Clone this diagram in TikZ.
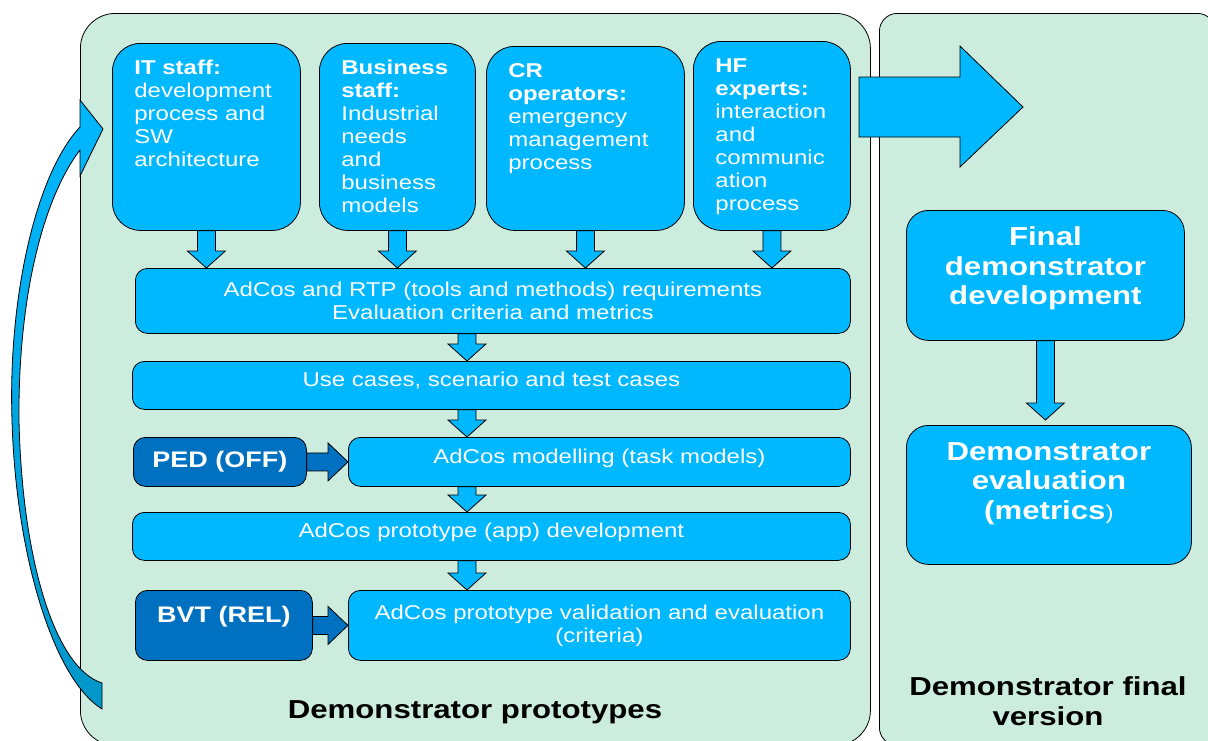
\documentclass[tikz,border=0pt]{standalone}
\usepackage{fontspec}
\setmainfont{Liberation Sans}[FakeStretch=1.2]
\usetikzlibrary{calc}

\definecolor{panelgreen}{RGB}{204,236,221}
\definecolor{boxblue}{RGB}{0,184,255}
\definecolor{darkblue}{RGB}{0,112,192}
\definecolor{arcblue}{RGB}{0,150,200}

% block arrows between two anchors (down / right)
\newcommand{\downblk}[3][boxblue]{%
  \draw[blkarrow, fill=#1] let \p1=#2, \p2=#3 in
    (\x1-9pt,\y1) -- (\x1-9pt,\y2+17pt) -- (\x1-19pt,\y2+17pt) -- (\x1,\y2)
    -- (\x1+19pt,\y2+17pt) -- (\x1+9pt,\y2+17pt) -- (\x1+9pt,\y1) -- cycle;}
\newcommand{\rightblk}[3][darkblue]{%
  \draw[blkarrow, fill=#1] let \p1=#2, \p2=#3 in
    (\x1,\y1+9pt) -- (\x2-20pt,\y1+9pt) -- (\x2-20pt,\y1+19pt) -- (\x2,\y1)
    -- (\x2-20pt,\y1-19pt) -- (\x2-20pt,\y1-9pt) -- (\x1,\y1-9pt) -- cycle;}

\begin{document}
\begin{tikzpicture}[
  x=1pt, y=-1pt,
  panel/.style={draw=black, fill=panelgreen, line width=0.8pt, anchor=north west},
  box/.style={draw=black, fill=boxblue, line width=0.8pt, text=white, anchor=north west, rounded corners=12pt},
  topbox/.style 2 args={box, rounded corners=28pt, align=left, text width=#1, text height=16pt, text depth=#2,
    inner xsep=22pt, inner ysep=15pt, font=\fontsize{20}{23}\selectfont},
  midbox/.style 2 args={box, minimum width=#1, minimum height=#2, inner sep=0pt, align=center,
    font=\fontsize{20}{23}\selectfont},
  oneline/.style={text height=13pt, text depth=10pt},
  darkbox/.style 2 args={midbox={#1}{#2}, fill=darkblue, font=\fontsize{22.5}{26}\selectfont\bfseries},
  bigbox/.style 2 args={box, rounded corners=22pt, minimum width=#1, minimum height=#2, inner sep=0pt,
    text width=#1, align=center, text height=19pt, font=\fontsize{26}{29.5}\selectfont\bfseries},
  caption/.style={anchor=base, align=center, font=\fontsize{26}{30}\selectfont\bfseries},
  blkarrow/.style={draw=black, line width=0.8pt}
]
  \useasboundingbox (0,0) rectangle (1208,740);

  % the two phases
  \node[panel, rounded corners=35pt, minimum width=790pt, minimum height=732pt] (protos) at (80,13) {};
  \node[panel, rounded corners=18pt, minimum width=336pt, minimum height=732pt] (finalv) at (879,13) {};

  % loop back to the stakeholders
  \draw[line width=0.8pt, top color=boxblue, bottom color=arcblue]
    (80,127) .. controls (35,175) and (8,300) .. (12,420)
    .. controls (16,560) and (55,680) .. (102,709) -- (102,683)
    .. controls (55,668) and (22,560) .. (19,420)
    .. controls (18,300) and (42,200) .. (80,150)
    -- (80,176) -- (103,129) -- (80,100) -- cycle;

  % stakeholders
  \node[topbox={144pt}{141pt}] (it) at (112,43)
    {\textbf{IT staff:}\\development\\process and\\SW\\architecture};
  \node[topbox={112pt}{141pt}] (bus) at (319,43)
    {\textbf{Business}\\\textbf{staff:}\\Industrial\\needs\\and\\business\\models};
  \node[topbox={154pt}{138pt}] (cr) at (486,46)
    {\textbf{CR}\\\textbf{operators:}\\emergency\\management\\process};
  \node[topbox={113pt}{143pt}] (hf) at (693,41)
    {\textbf{HF}\\\textbf{experts:}\\interaction\\and\\communic\\ation\\process};

  % prototype steps
  \node[midbox={715pt}{65pt}] (req) at (135,268)
    {AdCos and RTP (tools and methods) requirements\\Evaluation criteria and metrics};
  \node[midbox={718pt}{48pt}, oneline] (ucase) at (132,361) {Use cases, scenario and test cases};
  \node[darkbox={173pt}{49pt}] (ped) at (133,437) {PED (OFF)};
  \node[midbox={502pt}{49pt}, oneline] (model) at (348,437) {AdCos modelling (task models)};
  \node[midbox={718pt}{48pt}, oneline] (appdev) at (132,512) {AdCos prototype (app) development};
  \node[darkbox={177pt}{70pt}, text height=17pt, text depth=23pt] (bvt) at (135,590) {BVT (REL)};
  \node[midbox={502pt}{70pt}] (valid) at (348,590)
    {AdCos prototype validation and evaluation\\(criteria)};

  % final version
  \node[bigbox={278pt}{130pt}, text depth=78pt] (final) at (906,210)
    {Final\\demonstrator\\development};
  \node[bigbox={285pt}{139pt}, text depth=88pt] (eval) at (906,425)
    {Demonstrator\\evaluation\\(metrics{\mdseries\fontsize{20}{20}\selectfont)}};

  \node[caption] (protolbl) at (475,718) {Demonstrator prototypes};
  \node[caption, text width=300pt] (finallbl) at (1048,695) {Demonstrator final\\version};

  % arrows
  \coordinate (spine) at (467,0);
  \downblk{(it.south)}{(it.south |- req.north)}
  \downblk{(bus.south)}{(bus.south |- req.north)}
  \downblk{(cr.south)}{(cr.south |- req.north)}
  \downblk{(hf.south)}{(hf.south |- req.north)}
  \downblk{(req.south -| spine)}{(ucase.north -| spine)}
  \downblk{(ucase.south -| spine)}{(model.north -| spine)}
  \downblk{(model.south -| spine)}{(appdev.north -| spine)}
  \downblk{(appdev.south -| spine)}{(valid.north -| spine)}
  \rightblk{(ped.east)}{(model.west)}
  \rightblk{(bvt.east)}{(valid.west)}
  \downblk{(final.south)}{([yshift=5pt]eval.north)}

  % to the final version
  \draw[blkarrow, fill=boxblue] (859,77) -- (960,77) -- (960,46) -- (1023,107)
    -- (960,167) -- (960,137) -- (859,137) -- cycle;

\end{tikzpicture}
\end{document}
